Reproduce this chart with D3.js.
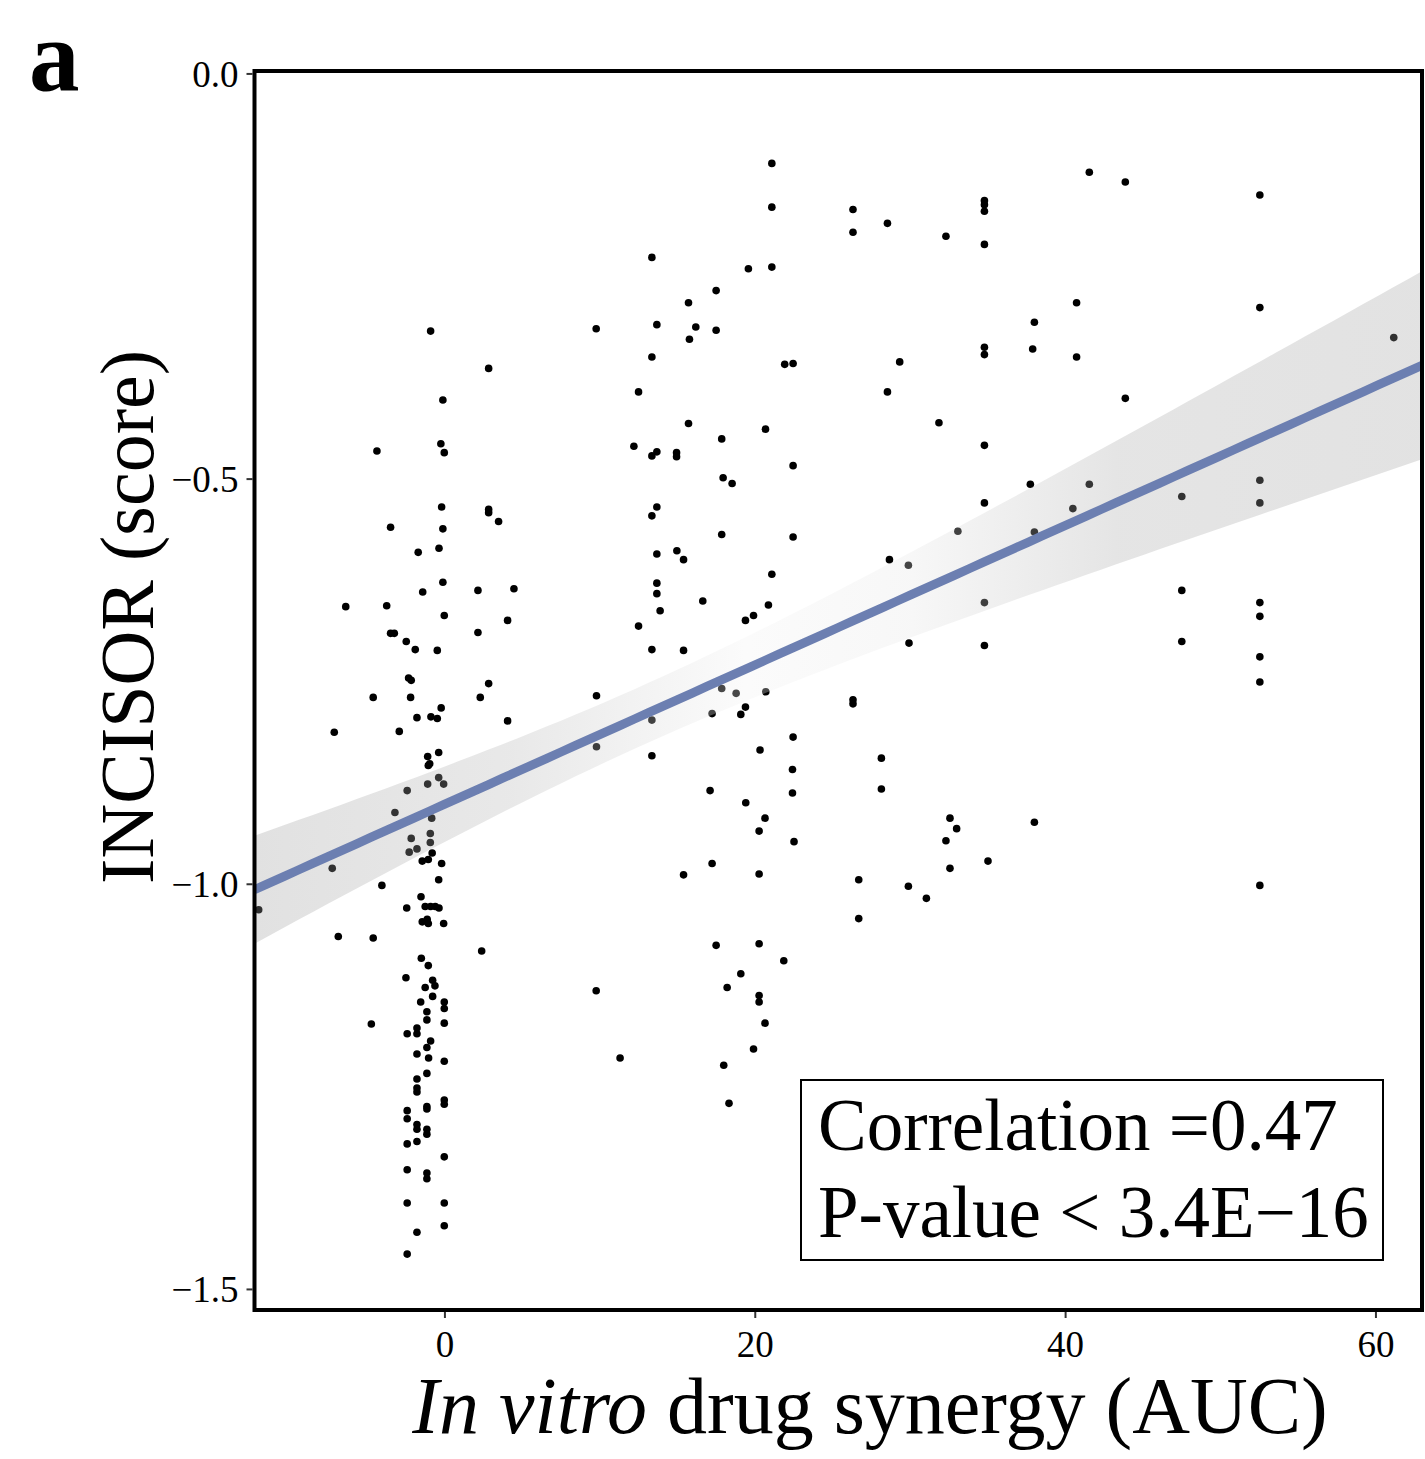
<!DOCTYPE html>
<html>
<head>
<meta charset="utf-8">
<script src="https://cdn.jsdelivr.net/npm/d3@7"></script>
<style>
  html, body { margin: 0; padding: 0; background: #fff; }
  svg { display: block; }
  text { font-family: "Liberation Serif", "DejaVu Serif", serif; fill: #000; }
</style>
</head>
<body>
<svg id="chart" width="1425" height="1459"></svg>
<script>
// In vitro synergy (AUC) per drug pair
const synergy = [
  -0.89, 2.85, -0.10, -4.35, -0.23, -0.01, -0.18, 2.85, 2.85, 3.49,
  -3.47, -0.10, -0.35, -1.69, -0.10, 2.16, 4.48, -1.40, -6.36, -3.72,
  -0.01, 4.07, -3.47, -3.23, 2.16, -2.46, -1.88, -0.46, -2.31, -2.14,
  2.85, -4.59, -2.18, 2.31, -0.21, -1.77, -0.87, -0.46, 4.07, -7.10,
  -2.91, -0.37, -1.08, -1.04, -0.95, -0.37, -0.05, -1.08, -2.40, -3.19,
  -0.82, -0.91, -0.91, -2.14, -2.27, -1.77, -0.79, -1.43, -1.04, -0.18,
  -7.23, -0.37, -4.03, -1.51, -2.43, -1.24, -0.89, -0.59, -0.35, -1.43,
  -1.11, -1.04, -0.05, -11.97, -6.84, -4.59, 2.40, -1.49, -1.04, -2.48,
  -0.76, -0.61, -1.24, -0.76, -1.53, -0.01, -0.01, -1.13, -1.13, -4.71,
  -0.01, -2.40, -1.77, -1.77, -0.89, -1.13, -1.77, -1.02, -0.01, -1.13,
  -1.77, -1.77, -1.77, -0.01, -0.01, -1.13, -1.13, -2.40, -2.40, -1.77,
  -1.77, -1.13, -1.13, -2.40, -1.77, -0.01, -2.40, -1.13, -1.13, -2.40,
  -0.01, -0.01, -1.77, -2.40,
  9.78, 13.37, 13.69, 15.73, 16.20, 17.51, 17.51, 15.79, 13.37, 19.59,
  21.10, 21.10, 21.10, 21.93, 22.47, 12.51, 15.73, 20.69, 12.21, 13.37,
  13.69, 14.96, 14.96, 17.87, 22.47, 17.96, 18.54, 13.69, 13.37, 17.87,
  22.47, 13.69, 14.98, 15.41, 21.10, 13.69, 13.69, 16.65, 13.90, 20.88,
  19.40, 19.92, 12.51, 13.37, 15.41, 9.80, 17.87, 18.80, 20.71, 19.40,
  19.10, 17.25, 13.37, 9.80, 13.37, 22.47, 20.34, 22.43, 22.43, 17.12,
  19.42, 20.66, 20.28, 22.53, 17.25, 15.41, 20.28, 17.51, 20.28, 21.87,
  19.10, 9.78, 18.22, 20.28, 20.28, 20.66, 11.32, 19.92, 18.00, 18.34,
  41.56, 43.88, 26.33, 26.33, 28.55, 34.80, 34.80, 34.80, 32.32, 34.80,
  40.74, 38.02, 34.80, 34.80, 37.91, 40.74, 29.34, 28.55, 43.88, 31.87,
  34.80, 37.76, 41.56, 34.80, 40.50, 33.09, 38.02, 28.68, 29.90, 34.80,
  29.94, 34.80, 26.33, 26.33, 28.16, 28.16, 32.58, 33.01, 32.32, 38.02,
  35.03, 32.58, 26.70, 29.90, 31.06, 26.70,
  52.55, 52.55, 61.18, 52.55, 52.55, 47.52, 47.52, 47.52, 52.55, 52.55,
  52.55, 52.55, 52.55
];

// INCISOR score for the same drug pairs
const incisor = [
  -0.318, -0.364, -0.403, -0.466, -0.457, -0.468, -0.535, -0.538, -0.542, -0.553,
  -0.560, -0.562, -0.586, -0.591, -0.628, -0.638, -0.636, -0.640, -0.658, -0.657,
  -0.669, -0.675, -0.691, -0.691, -0.690, -0.701, -0.711, -0.712, -0.746, -0.749,
  -0.753, -0.770, -0.770, -0.770, -0.783, -0.795, -0.794, -0.796, -0.799, -0.813,
  -0.812, -0.838, -0.843, -0.854, -0.852, -0.869, -0.877, -0.877, -0.885, -0.912,
  -0.919, -0.938, -0.949, -0.944, -0.961, -0.957, -0.962, -0.972, -0.970, -0.975,
  -0.981, -0.995, -1.002, -1.016, -1.030, -1.028, -1.028, -1.028, -1.030, -1.047,
  -1.044, -1.049, -1.049, -1.032, -1.065, -1.067, -1.083, -1.092, -1.101, -1.116,
  -1.119, -1.126, -1.128, -1.139, -1.146, -1.146, -1.154, -1.158, -1.168, -1.173,
  -1.172, -1.185, -1.178, -1.185, -1.194, -1.202, -1.210, -1.215, -1.219, -1.234,
  -1.241, -1.252, -1.257, -1.267, -1.272, -1.275, -1.278, -1.280, -1.290, -1.297,
  -1.303, -1.303, -1.309, -1.321, -1.318, -1.337, -1.353, -1.357, -1.364, -1.394,
  -1.394, -1.422, -1.430, -1.457,
  -0.315, -0.227, -0.310, -0.283, -0.313, -0.268, -0.317, -0.328, -0.350, -0.241,
  -0.111, -0.165, -0.239, -0.359, -0.358, -0.393, -0.432, -0.439, -0.460, -0.472,
  -0.467, -0.468, -0.473, -0.451, -0.484, -0.499, -0.506, -0.535, -0.546, -0.569,
  -0.572, -0.593, -0.589, -0.600, -0.618, -0.629, -0.642, -0.651, -0.663, -0.656,
  -0.675, -0.669, -0.682, -0.711, -0.712, -0.768, -0.759, -0.765, -0.763, -0.782,
  -0.791, -0.790, -0.798, -0.831, -0.842, -0.819, -0.835, -0.859, -0.888, -0.885,
  -0.900, -0.919, -0.935, -0.948, -0.975, -0.989, -0.988, -1.076, -1.074, -1.095,
  -1.111, -1.132, -1.128, -1.138, -1.146, -1.172, -1.215, -1.204, -1.224, -1.271,
  -0.122, -0.134, -0.168, -0.196, -0.185, -0.157, -0.162, -0.170, -0.201, -0.211,
  -0.283, -0.307, -0.338, -0.347, -0.340, -0.350, -0.356, -0.393, -0.401, -0.431,
  -0.459, -0.507, -0.507, -0.530, -0.537, -0.565, -0.566, -0.600, -0.607, -0.653,
  -0.703, -0.706, -0.773, -0.778, -0.845, -0.883, -0.919, -0.932, -0.947, -0.924,
  -0.972, -0.981, -0.995, -1.003, -1.018, -1.043,
  -0.150, -0.289, -0.326, -0.502, -0.530, -0.522, -0.638, -0.701, -0.653, -0.670,
  -0.720, -0.751, -1.002
];

// fitted trend: intercept, slope and confidence band shape
const fitIntercept = -0.902;
const fitSlope = 0.0086;
const bandCentre = 13;      // x where the band is narrowest
const bandMinHalf = 0.0368; // half-width at bandCentre
const bandSpread = 0.0022;  // growth of half-width per unit of x

const xTicks = [0, 20, 40, 60];
const yTicks = [0, -0.5, -1.0, -1.5];
const xDomain = [-12.24, 63.0];
const yDomain = [-1.526, 0.003];
const statLines = ["Correlation =0.47", "P-value < 3.4E\u221216"];
const panelLetter = "a";

const svg = d3.select("#chart");
const panel = { left: 254.5, right: 1422, top: 71, bottom: 1310 };

const x = d3.scaleLinear().domain(xDomain).range([panel.left, panel.right]);
const y = d3.scaleLinear().domain(yDomain).range([panel.bottom, panel.top]);

const points = synergy.map((v, i) => ({ x: v, y: incisor[i] }));

const fitGrid = d3.range(81).map(i => xDomain[0] + (xDomain[1] - xDomain[0]) * i / 80);
const fit = fitGrid.map(v => {
  const yhat = fitIntercept + fitSlope * v;
  const half = Math.sqrt(bandMinHalf ** 2 + (bandSpread * (v - bandCentre)) ** 2);
  return { x: v, y: yhat, lo: yhat - half, hi: yhat + half };
});

const defs = svg.append("defs");
defs.append("clipPath").attr("id", "panel-clip")
  .append("rect")
  .attr("x", panel.left).attr("y", panel.top)
  .attr("width", panel.right - panel.left).attr("height", panel.bottom - panel.top);

const grad = defs.append("linearGradient")
  .attr("id", "band-fill")
  .attr("gradientUnits", "userSpaceOnUse")
  .attr("x1", panel.left).attr("x2", panel.right)
  .attr("y1", 0).attr("y2", 0);
[[0, "#9c9c9c"], [0.22, "#b4b4b4"], [0.42, "#f2f2f2"], [0.56, "#e6e6e6"],
 [0.74, "#a8a8a8"], [1, "#a0a0a0"]].forEach(([o, c]) =>
  grad.append("stop").attr("offset", o).attr("stop-color", c));

const plot = svg.append("g").attr("clip-path", "url(#panel-clip)");

// scatter points
plot.append("g").selectAll("circle")
  .data(points)
  .join("circle")
  .attr("cx", d => x(d.x))
  .attr("cy", d => y(d.y))
  .attr("r", 3.8)
  .attr("fill", "#000");

// confidence band
plot.append("path")
  .datum(fit)
  .attr("d", d3.area().x(d => x(d.x)).y0(d => y(d.lo)).y1(d => y(d.hi)))
  .attr("fill", "url(#band-fill)")
  .attr("fill-opacity", 0.3);

// fitted line
plot.append("path")
  .datum(fit)
  .attr("d", d3.line().x(d => x(d.x)).y(d => y(d.y)))
  .attr("fill", "none")
  .attr("stroke", "#6c7fb1")
  .attr("stroke-width", 9);

// axes
const xAxis = svg.append("g")
  .attr("transform", `translate(0,${panel.bottom + 2})`)
  .call(d3.axisBottom(x).tickValues(xTicks).tickSize(6).tickPadding(8).tickFormat(d3.format("d")));
const yAxis = svg.append("g")
  .attr("transform", `translate(${panel.left - 2},0)`)
  .call(d3.axisLeft(y).tickValues(yTicks).tickSize(6).tickPadding(8).tickFormat(d3.format(".1f")));
[xAxis, yAxis].forEach(g => {
  g.select(".domain").remove();
  g.selectAll(".tick line").attr("stroke", "#333").attr("stroke-width", 2);
  g.selectAll(".tick text")
    .attr("font-family", '"Liberation Serif", serif')
    .attr("font-size", 37)
    .attr("fill", "#111");
});
xAxis.selectAll(".tick text").attr("dy", "0.85em");
yAxis.selectAll(".tick text").attr("dy", "0.34em");

// panel frame
svg.append("rect")
  .attr("x", panel.left).attr("y", panel.top)
  .attr("width", panel.right - panel.left).attr("height", panel.bottom - panel.top)
  .attr("fill", "none").attr("stroke", "#000").attr("stroke-width", 4);

// axis titles
const xt = svg.append("text")
  .attr("x", 870).attr("y", 1433)
  .attr("text-anchor", "middle")
  .attr("font-size", 80);
xt.append("tspan").attr("font-style", "italic").text("In vitro");
xt.append("tspan").text(" drug synergy (AUC)");

svg.append("text")
  .attr("transform", "translate(153,617) rotate(-90)")
  .attr("text-anchor", "middle")
  .attr("font-size", 76)
  .text("INCISOR (score)");

// statistics box
const box = { x: 801, y: 1080, w: 582, h: 180 };
svg.append("rect")
  .attr("x", box.x).attr("y", box.y).attr("width", box.w).attr("height", box.h)
  .attr("fill", "#fff").attr("stroke", "#000").attr("stroke-width", 2);
svg.append("g").selectAll("text")
  .data(statLines)
  .join("text")
  .attr("x", 818)
  .attr("y", (d, i) => 1150 + i * 87)
  .attr("font-size", 73)
  .text(d => d);

// panel letter
svg.append("text")
  .attr("x", 29).attr("y", 90)
  .attr("font-size", 101)
  .attr("font-weight", "bold")
  .text(panelLetter);
</script>
</body>
</html>
